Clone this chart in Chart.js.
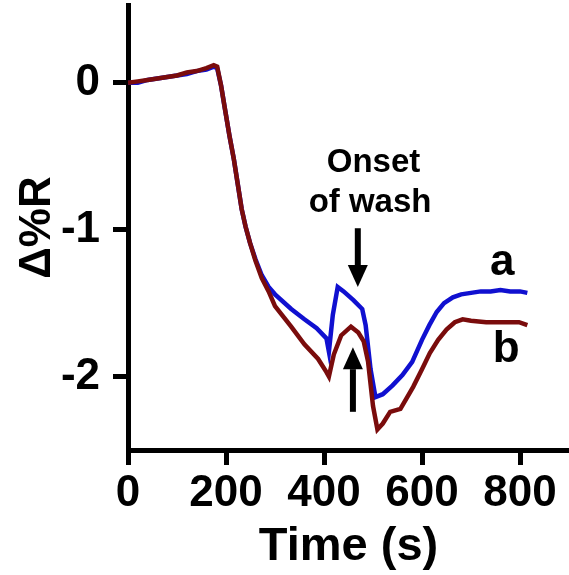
<!DOCTYPE html>
<html>
<head>
<meta charset="utf-8">
<script src="https://cdn.jsdelivr.net/npm/chart.js@4/dist/chart.umd.min.js"></script>
<style>
  html, body { margin:0; padding:0; background:#fff; }
  canvas { display:block; }
</style>
</head>
<body>
<canvas id="chart" width="569" height="575"></canvas>
<script>
// curve a (blue)
const timeA = [0,20,40,60,80,100,120,140,160,175,182,190,198,207,216,224,232,240,249,260,273,287,300,333,360,385,405,410,418,428,440,460,478,485,495,505,520,540,560,580,600,615,630,645,663,680,700,720,740,760,780,800,815];
const seriesA = [0,0.0,0.02,0.03,0.04,0.05,0.06,0.08,0.09,0.11,0.1,-0.02,-0.18,-0.36,-0.52,-0.69,-0.86,-0.98,-1.09,-1.2,-1.31,-1.39,-1.44,-1.54,-1.61,-1.67,-1.74,-1.83,-1.58,-1.39,-1.42,-1.48,-1.54,-1.65,-1.95,-2.14,-2.12,-2.06,-1.99,-1.9,-1.75,-1.65,-1.56,-1.5,-1.46,-1.44,-1.43,-1.42,-1.42,-1.41,-1.42,-1.42,-1.43];

// curve b (dark red)
const timeB = [0,20,40,60,80,100,120,140,160,175,182,190,198,207,216,224,232,240,249,260,273,287,300,333,360,388,405,410,420,435,455,470,481,490,500,509,520,535,556,582,600,616,633,650,667,683,700,731,760,798,815];
const seriesB = [0,0.01,0.02,0.03,0.04,0.05,0.07,0.08,0.1,0.12,0.11,-0.02,-0.18,-0.36,-0.52,-0.69,-0.86,-0.98,-1.09,-1.21,-1.33,-1.42,-1.52,-1.66,-1.78,-1.88,-1.97,-2.0,-1.85,-1.72,-1.66,-1.7,-1.76,-1.9,-2.2,-2.36,-2.32,-2.24,-2.22,-2.07,-1.95,-1.84,-1.75,-1.68,-1.63,-1.61,-1.62,-1.63,-1.63,-1.63,-1.65];

const xTicks = [0,200,400,600,800];
const yTicks = [-2,-1,0];

const FONT = "'Liberation Sans', Arial, sans-serif";

function toPoints(t, v){
    return t.map((x,i) => ({x:x, y:v[i]}));
}

// text & arrows, positioned in data units
const notes = {
    texts: [
        {text:"Onset",   x:501, y:-0.61, size:33},
        {text:"of wash", x:494, y:-0.88, size:33},
        {text:"a",       x:764, y:-1.31, size:44},
        {text:"b",       x:772, y:-1.90, size:44}
    ],
    arrows: [
        {x:469, from:-0.99, to:-1.39},
        {x:459, from:-2.24, to:-1.80}
    ]
};

const notesPlugin = {
    id:"notes",
    afterDatasetsDraw(chart){
        const c = chart.ctx;
        const xs = chart.scales.x, ys = chart.scales.y;
        c.save();
        c.fillStyle = "#000";
        c.strokeStyle = "#000";
        c.textAlign = "center";
        c.textBaseline = "alphabetic";
        notes.texts.forEach(n => {
            c.font = "bold " + n.size + "px " + FONT;
            c.fillText(n.text, xs.getPixelForValue(n.x), ys.getPixelForValue(n.y));
        });
        notes.arrows.forEach(a => {
            const x = xs.getPixelForValue(a.x);
            const y0 = ys.getPixelForValue(a.from);
            const y1 = ys.getPixelForValue(a.to);
            const dir = y1 > y0 ? 1 : -1;
            const headLen = 22, headW = 10;
            c.lineWidth = 6;
            c.beginPath();
            c.moveTo(x, y0);
            c.lineTo(x, y1 - dir*headLen);
            c.stroke();
            c.beginPath();
            c.moveTo(x, y1);
            c.lineTo(x - headW, y1 - dir*headLen);
            c.lineTo(x + headW, y1 - dir*headLen);
            c.closePath();
            c.fill();
        });
        c.restore();
    }
};

const chart = new Chart(document.getElementById("chart"), {
    type:"line",
    data:{
        datasets:[
        {
            label:"b",
            data: toPoints(timeB, seriesB),
            borderColor:"#7a0c0c",
            borderWidth:4.5,
            pointRadius:0,
            tension:0
        },
        {
            label:"a",
            data: toPoints(timeA, seriesA),
            borderColor:"#1010d0",
            borderWidth:4.5,
            pointRadius:0,
            tension:0
        }]
    },
    options:{
        responsive:false,
        animation:false,
        layout:{ padding:{ top:5, left:0, right:0, bottom:0 } },
        plugins:{
            legend:{ display:false },
            tooltip:{ enabled:false }
        },
        scales:{
            x:{
                type:"linear",
                min:0,
                max:900,
                afterBuildTicks: s => { s.ticks = xTicks.map(v => ({value:v})); },
                afterFit: s => { s.height = 125; s.paddingLeft = 0; s.paddingRight = 0; },
                border:{ width:5, color:"#000" },
                grid:{ drawOnChartArea:false, color:"#000", lineWidth:5, tickLength:15 },
                ticks:{ color:"#000", padding:2, maxRotation:0, font:{ family:FONT, size:44, weight:"bold" } },
                title:{ display:true, text:"Time (s)", color:"#000", padding:{top:0, bottom:0},
                        font:{ family:FONT, size:47, weight:"bold" } }
            },
            y:{
                min:-2.5,
                max:0.53,
                afterBuildTicks: s => { s.ticks = yTicks.map(v => ({value:v})); },
                afterFit: s => { s.width = 128; s.paddingTop = 0; s.paddingBottom = 0; },
                border:{ width:5, color:"#000" },
                grid:{ drawOnChartArea:false, color:"#000", lineWidth:5, tickLength:15 },
                ticks:{ color:"#000", padding:13, callback: v => String(v),
                        font:{ family:FONT, size:44, weight:"bold" } },
                title:{ display:true, text:"Δ%R", color:"#000", padding:{top:11, bottom:0},
                        font:{ family:FONT, size:44, weight:"bold" } }
            }
        }
    },
    plugins:[notesPlugin]
});
</script>
</body>
</html>
